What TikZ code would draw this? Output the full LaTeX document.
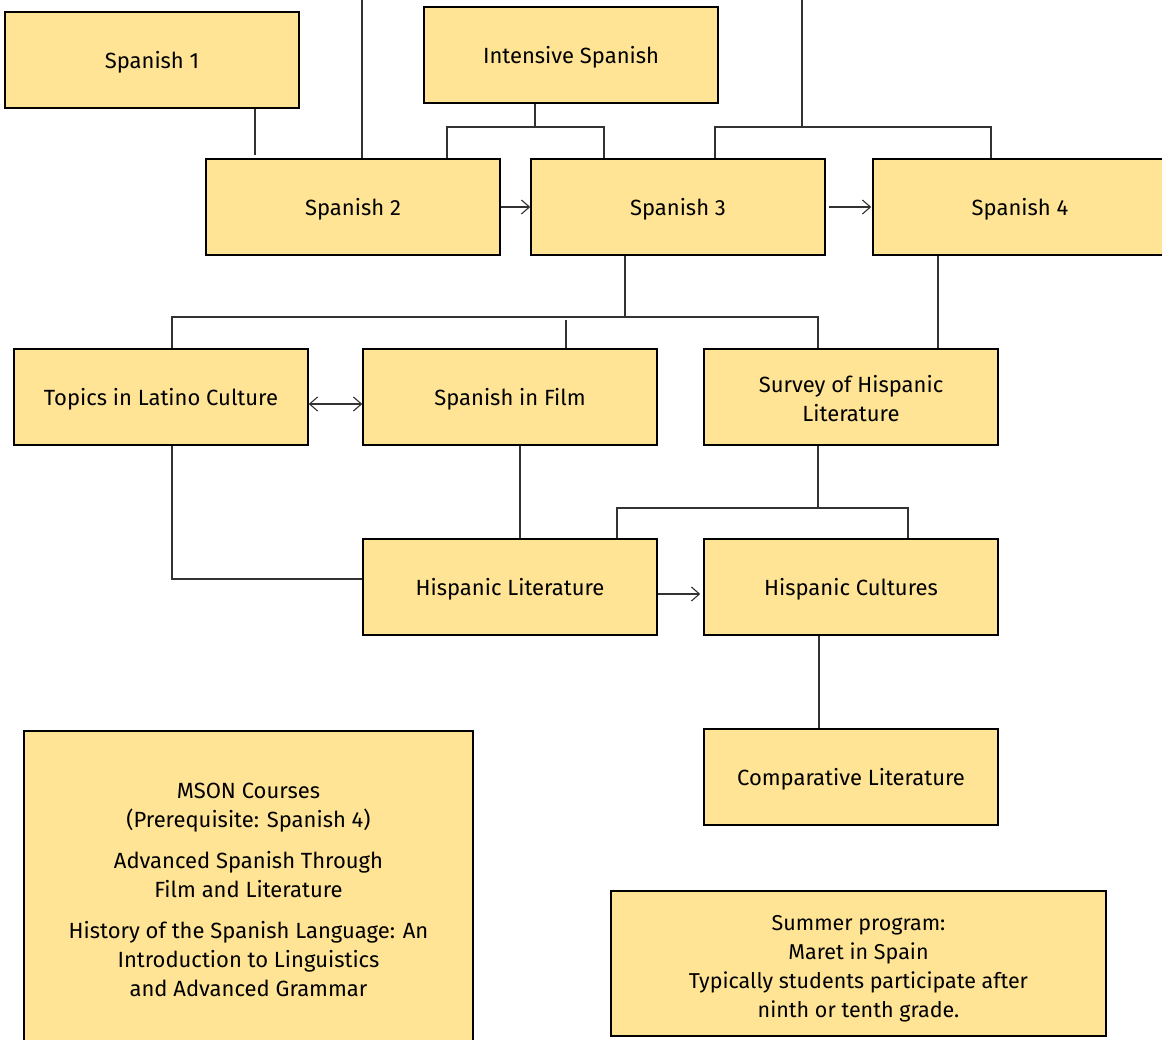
\documentclass[tikz,border=0pt]{standalone}
\usepackage{fontspec}
\setmainfont{Fira Sans}
\usetikzlibrary{arrows.meta}
\definecolor{boxfill}{RGB}{254,228,148}
\definecolor{linegray}{RGB}{50,50,50}

\tikzset{
    course/.style={draw=black, line width=1.5pt, fill=boxfill,
        minimum width=294pt, minimum height=96pt, inner sep=0pt,
        text height=22pt, text depth=5pt,
        align=center, font=\fontsize{22}{29}\selectfont},
    multiline/.style={text height=, text depth=},
    link/.style={draw=linegray, line width=1.1pt},
    arr/.style={link, -{Straight Barb[length=8pt,width=14pt]}},
    arrboth/.style={link, {Straight Barb[length=8pt,width=14pt]}-{Straight Barb[length=8pt,width=14pt]}},
}

\begin{document}
\begin{tikzpicture}[x=1pt, y=-1pt]
    \useasboundingbox (0,0) rectangle (1162,1040);
    \clip (0,0) rectangle (1162,1040);
    % Language courses
    \node[course] (sp1) at (152,60) {Spanish 1};
    \node[course] (int) at (571,55) {Intensive Spanish};
    \node[course] (sp2) at (353,207) {Spanish 2};
    \node[course] (sp3) at (678,207) {Spanish 3};
    \node[course] (sp4) at (1020,207) {Spanish 4};
    % Electives
    \node[course] (topics) at (161,397) {Topics in Latino Culture};
    \node[course] (film) at (510,397) {Spanish in Film};
    \node[course, multiline] (survey) at (851,397) {\rule{0pt}{20pt}Survey of Hispanic\\Literature};
    \node[course] (hlit) at (510,587) {Hispanic Literature};
    \node[course] (hcult) at (851,587) {Hispanic Cultures};
    \node[course] (comp) at (851,777) {Comparative Literature};
    % Notes
    \node[course, multiline, minimum width=449pt, minimum height=318pt] (mson) at (248.5,890)
        {MSON Courses\\(Prerequisite: Spanish 4)\\[12pt]
         Advanced Spanish Through\\Film and Literature\\[12pt]
         History of the Spanish Language: An\\Introduction to Linguistics\\and Advanced Grammar};
    \node[course, multiline, minimum width=495pt, minimum height=145pt,
        font=\fontsize{21.5}{29}\selectfont] (summer) at (858.5,963.5)
        {\rule{0pt}{26pt}Summer program:\\Maret in Spain\\Typically students participate after\\ninth or tenth grade.};

    % Junctions
    \coordinate (topA) at (362,0);
    \coordinate (topB) at (802,0);
    \coordinate (jB) at (802,127);
    \coordinate (jI) at (535,127);
    \coordinate (j3) at (625,317);
    \coordinate (j5) at (818,508);
    \coordinate (s1end) at (255,155);

    % Connectors, top row
    \draw[link] (s1end |- sp1.south) -- (s1end);
    \draw[link] (topA) -- (topA |- sp2.north);
    \draw[link] (topB) -- (jB);
    \draw[link] ([xshift=37pt]sp3.north) |- (jB) -| ([xshift=-29pt]sp4.north);
    \draw[link] (jI |- int.south) -- (jI);
    \draw[link] ([xshift=94pt]sp2.north) |- (jI) -| ([xshift=-74pt]sp3.north);
    \draw[arr] (sp2.east) -- (sp3.west);
    \draw[arr] ([xshift=3pt]sp3.east) -- ([xshift=-1pt]sp4.west);
    % Connectors, middle row
    \draw[link] (j3 |- sp3.south) -- (j3);
    \draw[link] ([xshift=11pt]topics.north) |- (j3) -| ([xshift=-33pt]survey.north);
    \draw[link] ([xshift=56pt]film.north) -- ++(0,-28);
    \draw[link] ([xshift=-82pt]sp4.south) -- ([xshift=87pt]survey.north);
    \draw[arrboth] ([yshift=-7pt]topics.east) -- ([yshift=-7pt]film.west);
    % Connectors, lower rows
    \draw[link] ([xshift=11pt]topics.south) |- ([yshift=8pt]hlit.west);
    \draw[link] ([xshift=10pt]film.south) -- ([xshift=10pt]hlit.north);
    \draw[link] (j5 |- survey.south) -- (j5);
    \draw[link] ([xshift=107pt]hlit.north) |- (j5) -| ([xshift=57pt]hcult.north);
    \draw[arr] ([yshift=-7pt]hlit.east) -- ([yshift=-7pt,xshift=-3pt]hcult.west);
    \draw[link] ([xshift=-32pt]hcult.south) -- ([xshift=-32pt]comp.north);
\end{tikzpicture}
\end{document}
